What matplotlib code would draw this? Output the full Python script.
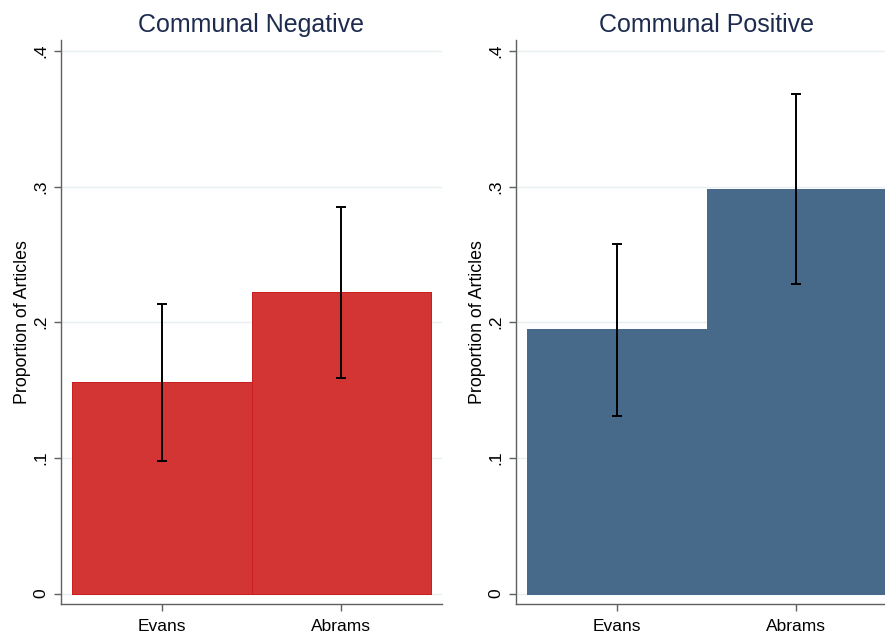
import matplotlib
matplotlib.use("Agg")
import matplotlib.pyplot as plt

plt.rcParams['font.family'] = ['Liberation Sans', 'DejaVu Sans']

# Data
candidates = ["Evans", "Abrams"]
panel_titles = ["Communal Negative", "Communal Positive"]
neg_props = [0.156, 0.222]
neg_lower = [0.098, 0.159]
neg_upper = [0.2135, 0.285]
pos_props = [0.195, 0.298]
pos_lower = [0.131, 0.228]
pos_upper = [0.258, 0.368]
ytick_vals = [0, 0.1, 0.2, 0.3, 0.4]
ytick_labels = ["0", ".1", ".2", ".3", ".4"]

# title, values, CI bounds, fill colour, edge colour, edge width
panels = [
    (panel_titles[0], neg_props, neg_lower, neg_upper, "#D33434", "#C82020", 0.7),
    (panel_titles[1], pos_props, pos_lower, pos_upper, "#476A8A", "#476A8A", 0.5),
]

fig = plt.figure(figsize=(8.85, 6.35), dpi=100)
positions = [
    [61 / 885, 31 / 635, 381 / 885, 564 / 635],
    [516 / 885, 31 / 635, 381 / 885, 564 / 635],
]

for pos, (title, props, lo, hi, color, edge, ew) in zip(positions, panels):
    ax = fig.add_axes(pos)
    x = list(range(len(candidates)))
    ax.bar(x, props, width=1.0, color=color, edgecolor=edge, linewidth=ew,
           antialiased=False, zorder=2)
    yerr = [[p - l for p, l in zip(props, lo)], [h - p for p, h in zip(props, hi)]]
    ax.errorbar(x, props, yerr=yerr, fmt="none", ecolor="black",
                elinewidth=1.4, capsize=3.3, capthick=1.4, zorder=3)
    ax.set_xlim(-0.564, 1.564)
    ax.set_ylim(-0.0077, 0.408)
    ax.set_yticks(ytick_vals)
    ax.set_yticklabels(ytick_labels, rotation=90, va="center")
    ax.set_xticks(x)
    ax.set_xticklabels(candidates)
    ax.grid(axis="y", color="#E8EFF1", linewidth=1.0, zorder=0)
    ax.set_axisbelow(True)
    for s in ["top", "right"]:
        ax.spines[s].set_visible(False)
    for s in ["left", "bottom"]:
        ax.spines[s].set_color("#606060")
        ax.spines[s].set_linewidth(1.0)
    ax.tick_params(axis="both", colors="#606060", length=5, width=1.0,
                   labelsize=12.5, labelcolor="black")
    ax.tick_params(axis="y", pad=4)
    ax.tick_params(axis="x", pad=6)
    ax.set_ylabel("Proportion of Articles", fontsize=12.8, labelpad=2)
    ax.set_title(title, fontsize=18, color="#1C2B4E", pad=6)

fig.savefig("out.png", dpi=100)
